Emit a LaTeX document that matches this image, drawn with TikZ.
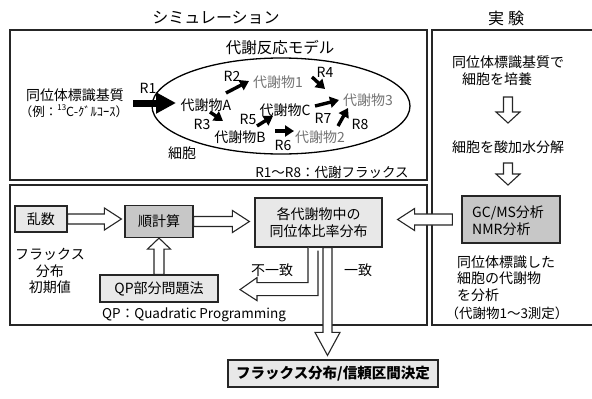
\documentclass[tikz,border=0pt]{standalone}
\usepackage{fontspec}
\setmainfont{Noto Sans CJK JP}
\usetikzlibrary{arrows.meta,calc}
\newcommand\rArrow[5]{\draw[hollow] let \p1=#1, \p2=#2 in (\x1,\y1+#3) -- (\x2-#5,\y1+#3) -- (\x2-#5,\y1+#4) -- (\x2,\y1) -- (\x2-#5,\y1-#4) -- (\x2-#5,\y1-#3) -- (\x1,\y1-#3) -- cycle;}
\newcommand\lArrow[5]{\draw[hollow] let \p1=#1, \p2=#2 in (\x1,\y1+#3) -- (\x2+#5,\y1+#3) -- (\x2+#5,\y1+#4) -- (\x2,\y1) -- (\x2+#5,\y1-#4) -- (\x2+#5,\y1-#3) -- (\x1,\y1-#3) -- cycle;}
\newcommand\dArrow[5]{\draw[hollow] let \p1=#1, \p2=#2 in (\x1+#3,\y1) -- (\x1+#3,\y2+#5) -- (\x1+#4,\y2+#5) -- (\x1,\y2) -- (\x1-#4,\y2+#5) -- (\x1-#3,\y2+#5) -- (\x1-#3,\y1) -- cycle;}
\newcommand\uArrow[5]{\draw[hollow] let \p1=#1, \p2=#2 in (\x1+#3,\y1) -- (\x1+#3,\y2-#5) -- (\x1+#4,\y2-#5) -- (\x1,\y2) -- (\x1-#4,\y2-#5) -- (\x1-#3,\y2-#5) -- (\x1-#3,\y1) -- cycle;}
\begin{document}
\begin{tikzpicture}[x=1pt,y=-1pt,
  txt/.style={inner sep=0pt, font=\fontsize{14}{16.5}\selectfont},
  gtxt/.style={txt, text=black!55},
  ttl/.style={inner sep=0pt, font=\fontsize{16}{18}\selectfont},
  frame/.style={draw=black!85, line width=1.4pt},
  gbox/.style={draw=black!85, line width=1.2pt, fill=black!9, inner sep=0pt, font=\fontsize{14}{16.5}\selectfont, align=center},
  dbox/.style={gbox, fill=black!22},
  hollow/.style={draw=black!85, line width=1.1pt, fill=white, line join=miter},
  rarr/.style={line width=3.4pt, -{Triangle[length=9pt,width=11pt]}},
  bigarr/.style={line width=7pt, -{Triangle[length=20pt,width=20pt]}},
]
\useasboundingbox (0,0) rectangle (592,399);
% titles
\node[ttl] (tsim) at (216,18) {シミュレーション};
\node[ttl] (texp) at (506,18) {実\hspace{4pt}験};
% frames
\draw[frame] (10,30) rectangle (427,180);
\draw[frame] (10,185) rectangle (427,325);
\draw[frame] (596,30) -- (432,30) -- (432,325) -- (596,325);
% metabolic model
\node[inner sep=0pt, font=\fontsize{15.5}{18}\selectfont] (model) at (280,48) {代謝反応モデル};
\draw[line width=1.3pt] (281,106) ellipse [x radius=129, y radius=48];
\node[txt] (sub1) at (75,95) {同位体標識基質};
\node[txt, font=\fontsize{12.5}{15}\selectfont] (sub2) at (74,111) {（例：\raisebox{0.45em}{\fontsize{8}{8}\selectfont 13}C-ｸﾞﾙｺｰｽ）};
\node[txt] (mA) at (206,105) {代謝物A};
\node[gtxt] (m1) at (278,82) {代謝物1};
\node[txt] (mC) at (285,110) {代謝物C};
\node[gtxt] (m3) at (368,100) {代謝物3};
\node[txt] (mB) at (240,137) {代謝物B};
\node[gtxt] (m2) at (320,137) {代謝物2};
\node[txt] (cell) at (182,153) {細胞};
\node[txt] (lR1) at (148,88) {R1};
\node[txt] (lR2) at (232,76) {R2};
\node[txt] (lR3) at (202,124) {R3};
\node[txt] (lR4) at (325,72) {R4};
\node[txt] (lR5) at (248,119) {R5};
\node[txt] (lR6) at (283,145) {R6};
\node[txt] (lR7) at (323,118) {R7};
\node[txt] (lR8) at (360,124) {R8};
\node[txt, font=\fontsize{13.5}{15}\selectfont] (flux) at (332,172) {R1～R8：代謝フラックス};
\coordinate (a1s) at (133,103); \coordinate (a1e) at (176,103);
\coordinate (a2s) at (226,93);  \coordinate (a2e) at (249,81);
\coordinate (a3s) at (210,112); \coordinate (a3e) at (223,121);
\coordinate (a4s) at (312,77);  \coordinate (a4e) at (325,89);
\coordinate (a5s) at (257,126); \coordinate (a5e) at (273,116);
\coordinate (a6s) at (275,131); \coordinate (a6e) at (294,131);
\coordinate (a7s) at (315,106); \coordinate (a7e) at (339,100);
\coordinate (a8s) at (338,126); \coordinate (a8e) at (348,108);
\draw[bigarr] (a1s) -- (a1e);
\draw[rarr] (a2s) -- (a2e);
\draw[rarr] (a3s) -- (a3e);
\draw[rarr] (a4s) -- (a4e);
\draw[rarr] (a5s) -- (a5e);
\draw[rarr] (a6s) -- (a6e);
\draw[rarr] (a7s) -- (a7e);
\draw[rarr] (a8s) -- (a8e);
% experiment column
\node[txt, anchor=west] (e1) at (452,62) {同位体標識基質で};
\node[txt, anchor=west] (e2) at (462,79) {細胞を培養};
\node[txt, anchor=west] (e3) at (452,147) {細胞を酸加水分解};
\coordinate (ea1s) at (508,97); \coordinate (ea1e) at (508,123);
\coordinate (ea2s) at (508,163); \coordinate (ea2e) at (508,185);
\dArrow{(ea1s)}{(ea1e)}{4.5pt}{12pt}{11pt}
\dArrow{(ea2s)}{(ea2e)}{4.5pt}{12pt}{11pt}
\node[dbox, minimum width=98pt, minimum height=47pt] (gc) at (511,219.5) {};
\node[txt, anchor=west, align=left] (gct) at (472,220.5) {GC/MS分析\\NMR分析};
\node[txt, anchor=west, align=left] (e4) at (457,262) {同位体標識した};
\node[txt, anchor=west, align=left] (e5) at (457,278.5) {細胞の代謝物};
\node[txt, anchor=west, align=left] (e6) at (457,295) {を分析};
\node[txt, font=\fontsize{13.5}{15}\selectfont] (e7) at (507,313) {（代謝物1～3測定）};
% simulation loop
\node[gbox, minimum width=52pt, minimum height=26pt] (ran) at (41,219) {乱数};
\node[dbox, minimum width=68pt, minimum height=32pt] (jun) at (159,221.5) {順計算};
\node[gbox, minimum width=127pt, minimum height=49pt] (kaku) at (318.5,222.5) {各代謝物中の\\同位体比率分布};
\node[txt, align=center] (init) at (50,271) {フラックス\\分布\\初期値};
\node[gbox, minimum width=118pt, minimum height=27pt] (qp) at (159,288.5) {QP部分問題法};
\node[txt, anchor=west, font=\fontsize{13.5}{15}\selectfont] (qpl) at (102,315) {QP：Quadratic Programming};
\node[txt] (fu) at (272,270) {不一致};
\node[txt] (ic) at (358,270) {一致};
\node[gbox, minimum width=210pt, minimum height=27pt, font=\fontsize{14.5}{16}\selectfont\bfseries] (fin) at (333,373.5) {フラックス分布/信頼区間決定};
\rArrow{(ran.east)}{($(jun.west)+(-3,0)$)}{5pt}{11pt}{17pt}
\rArrow{(jun.east)}{($(kaku.west)+(-5,0)$)}{5pt}{11pt}{17pt}
\lArrow{($(gc.west)+(-9,0)$)}{($(kaku.east)+(15,0)$)}{5.5pt}{11pt}{17pt}
\uArrow{(qp.north)}{(jun.south)}{5pt}{11.5pt}{11pt}
% mismatch L-arrow
\draw[hollow] let \p1=(kaku.south), \p2=(qp.east) in
  ($(\p1)+(-10.5pt,0)$) coordinate (k0) (k0) -- ++(0,-35pt) -- ++(-51pt,0) -- ++(0,5pt) -- ++(-17pt,-12pt) -- ++(17pt,-11pt) -- ++(0,5pt) -- ++(61pt,0) -- ++(0,45pt);
% match arrow
\coordinate (mtop) at ($(kaku.south)+(9,0)$);
\dArrow{(mtop)}{($(fin.north)+(0,-4)$)}{4.5pt}{12.5pt}{23pt}
\end{tikzpicture}
\end{document}
